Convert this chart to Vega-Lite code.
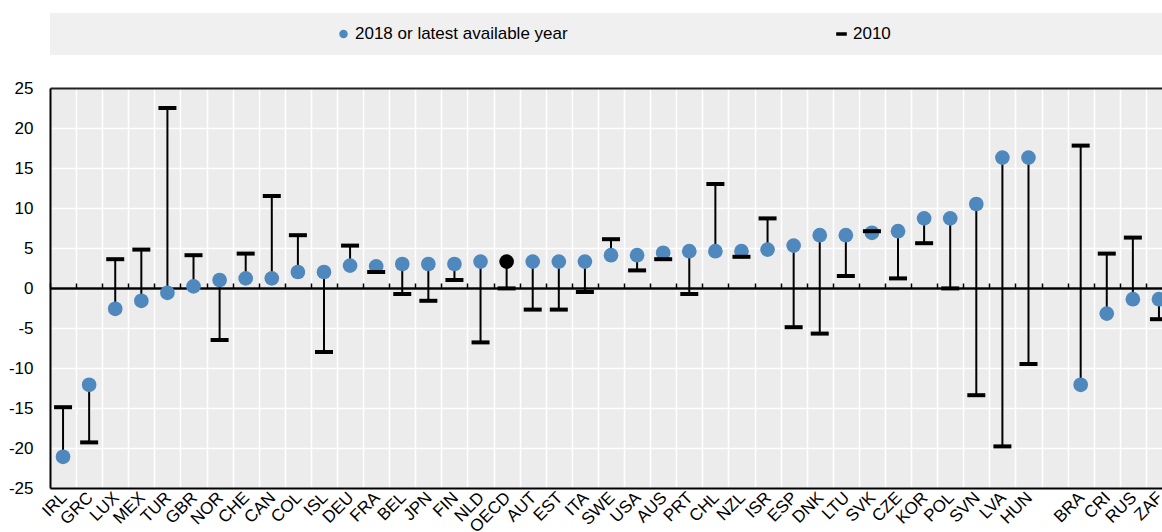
{
  "$schema": "https://vega.github.io/schema/vega-lite/v6.json",
  "width": 1112,
  "height": 400,
  "autosize": {"type": "none"},
  "padding": {"left": 50, "top": 88, "right": 0, "bottom": 44},
  "background": "white",
  "config": {
    "font": "Liberation Sans",
    "view": {"fill": "#ececec", "stroke": null},
    "axis": {"labelFont": "Liberation Sans", "labelFontSize": 17, "labelColor": "black", "title": null}
  },
  "data": {
    "values": [
      {"country": "IRL", "v2018": -21.1, "v2010": -14.9},
      {"country": "GRC", "v2018": -12.1, "v2010": -19.3},
      {"country": "LUX", "v2018": -2.6, "v2010": 3.6},
      {"country": "MEX", "v2018": -1.6, "v2010": 4.8},
      {"country": "TUR", "v2018": -0.6, "v2010": 22.5},
      {"country": "GBR", "v2018": 0.2, "v2010": 4.1},
      {"country": "NOR", "v2018": 1.0, "v2010": -6.5},
      {"country": "CHE", "v2018": 1.2, "v2010": 4.3},
      {"country": "CAN", "v2018": 1.2, "v2010": 11.5},
      {"country": "COL", "v2018": 2.0, "v2010": 6.6},
      {"country": "ISL", "v2018": 2.0, "v2010": -8.0},
      {"country": "DEU", "v2018": 2.8, "v2010": 5.3},
      {"country": "FRA", "v2018": 2.7, "v2010": 2.0},
      {"country": "BEL", "v2018": 3.0, "v2010": -0.75},
      {"country": "JPN", "v2018": 3.0, "v2010": -1.6},
      {"country": "FIN", "v2018": 3.0, "v2010": 1.0},
      {"country": "NLD", "v2018": 3.3, "v2010": -6.8},
      {"country": "OECD", "v2018": 3.3, "v2010": -0.05},
      {"country": "AUT", "v2018": 3.3, "v2010": -2.7},
      {"country": "EST", "v2018": 3.3, "v2010": -2.7},
      {"country": "ITA", "v2018": 3.3, "v2010": -0.5},
      {"country": "SWE", "v2018": 4.1, "v2010": 6.1},
      {"country": "USA", "v2018": 4.1, "v2010": 2.2},
      {"country": "AUS", "v2018": 4.4, "v2010": 3.6},
      {"country": "PRT", "v2018": 4.6, "v2010": -0.75},
      {"country": "CHL", "v2018": 4.6, "v2010": 13.0},
      {"country": "NZL", "v2018": 4.6, "v2010": 3.9},
      {"country": "ISR", "v2018": 4.8, "v2010": 8.7},
      {"country": "ESP", "v2018": 5.3, "v2010": -4.9},
      {"country": "DNK", "v2018": 6.6, "v2010": -5.7},
      {"country": "LTU", "v2018": 6.6, "v2010": 1.5},
      {"country": "SVK", "v2018": 6.9, "v2010": 7.1},
      {"country": "CZE", "v2018": 7.1, "v2010": 1.2},
      {"country": "KOR", "v2018": 8.7, "v2010": 5.6},
      {"country": "POL", "v2018": 8.7, "v2010": -0.05},
      {"country": "SVN", "v2018": 10.5, "v2010": -13.4},
      {"country": "LVA", "v2018": 16.3, "v2010": -19.8},
      {"country": "HUN", "v2018": 16.3, "v2010": -9.5},
      {"country": "BRA", "v2018": -12.1, "v2010": 17.8},
      {"country": "CRI", "v2018": -3.2, "v2010": 4.3},
      {"country": "RUS", "v2018": -1.4, "v2010": 6.3},
      {"country": "ZAF", "v2018": -1.4, "v2010": -3.9}
    ]
  },
  "resolve": {"axis": {"x": "independent"}},
  "layer": [
    {
      "mark": {"type": "rule", "strokeWidth": 2, "color": "black"},
      "encoding": {
        "x": {
          "field": "country",
          "type": "nominal",
          "sort": null,
          "scale": {
            "type": "band",
            "domain": ["IRL","GRC","LUX","MEX","TUR","GBR","NOR","CHE","CAN","COL","ISL","DEU","FRA","BEL","JPN","FIN","NLD","OECD","AUT","EST","ITA","SWE","USA","AUS","PRT","CHL","NZL","ISR","ESP","DNK","LTU","SVK","CZE","KOR","POL","SVN","LVA","HUN"," ","BRA","CRI","RUS","ZAF"],
            "paddingInner": 0,
            "paddingOuter": 0,
            "range": [0, 1122]
          },
          "axis": {
            "orient": "bottom",
            "labelAngle": -45,
            "labelPadding": 1,
            "labelOffset": -5,
            "labelOverlap": false,
            "ticks": false,
            "tickSize": 0,
            "domain": true,
            "domainColor": "black",
            "domainWidth": 2,
            "grid": true,
            "gridColor": "white",
            "gridWidth": 1.5,
            "tickBand": "extent",
            "labelFontSize": 17
          }
        },
        "y": {
          "field": "v2018",
          "type": "quantitative",
          "scale": {"domain": [-25, 25], "nice": false, "zero": false},
          "axis": {
            "values": [-25, -20, -15, -10, -5, 0, 5, 10, 15, 20, 25],
            "labelExpr": "'' + datum.value",
            "labelOverlap": false,
            "labelFlush": false,
            "domain": true,
            "domainColor": "black",
            "domainWidth": 2,
            "ticks": false,
            "tickSize": 0,
            "labelPadding": 17,
            "grid": true,
            "gridColor": {"condition": {"test": "datum.value === 0 || datum.value === 25", "value": "#222222"}, "value": "white"},
            "gridWidth": {"condition": {"test": "datum.value === 0 || datum.value === 25", "value": 2}, "value": 1.5}
          }
        },
        "y2": {"field": "v2010"}
      }
    },
    {
      "transform": [{"filter": "datum.country !== 'OECD'"}],
      "mark": {"type": "point", "filled": true, "size": 215, "opacity": 1, "strokeWidth": 0},
      "encoding": {
        "x": {"field": "country", "type": "nominal", "sort": null, "axis": null},
        "y": {
          "field": "v2018",
          "type": "quantitative",
          "axis": {
            "values": [-25, -20, -15, -10, -5, 0, 5, 10, 15, 20, 25],
            "labelExpr": "'' + datum.value",
            "labelOverlap": false,
            "labelFlush": false,
            "domain": true,
            "domainColor": "black",
            "domainWidth": 2,
            "ticks": false,
            "tickSize": 0,
            "labelPadding": 17,
            "grid": true,
            "gridColor": {"condition": {"test": "datum.value === 0 || datum.value === 25", "value": "#222222"}, "value": "white"},
            "gridWidth": {"condition": {"test": "datum.value === 0 || datum.value === 25", "value": 2}, "value": 1.5}
          }
        },
        "color": {
          "datum": "2018 or latest available year",
          "type": "nominal",
          "scale": {"domain": ["", "2018 or latest available year", "2010", " "], "range": ["#f0f0f0", "#4e88bd", "black", "#f0f0f0"]},
          "legend": {
            "title": null,
            "orient": "none",
            "legendX": 0,
            "legendY": -75,
            "direction": "horizontal",
            "columns": 4,
            "padding": 0,
            "clipHeight": 42,
            "fillColor": "#f0f0f0",
            "labelFont": "Liberation Sans",
            "labelFontSize": 17,
            "labelColor": "black",
            "labelLimit": 800,
            "symbolSize": 72,
            "symbolStrokeWidth": 0,
            "columnPadding": 265,
            "labelOffset": 3,
            "encoding": {
              "symbols": {
                "shape": {"condition": {"test": "datum.value === '2010'", "value": "M-1.25,-0.4H1.25V0.4H-1.25Z"}, "value": "circle"},
                "opacity": {"value": 1}
              }
            }
          }
        }
      }
    },
    {
      "transform": [{"filter": "datum.country === 'OECD'"}],
      "mark": {"type": "point", "filled": true, "size": 215, "opacity": 1, "strokeWidth": 0, "color": "black"},
      "encoding": {
        "x": {"field": "country", "type": "nominal", "sort": null, "axis": null},
        "y": {
          "field": "v2018",
          "type": "quantitative",
          "axis": {
            "values": [-25, -20, -15, -10, -5, 0, 5, 10, 15, 20, 25],
            "labelExpr": "'' + datum.value",
            "labelOverlap": false,
            "labelFlush": false,
            "domain": true,
            "domainColor": "black",
            "domainWidth": 2,
            "ticks": false,
            "tickSize": 0,
            "labelPadding": 17,
            "grid": true,
            "gridColor": {"condition": {"test": "datum.value === 0 || datum.value === 25", "value": "#222222"}, "value": "white"},
            "gridWidth": {"condition": {"test": "datum.value === 0 || datum.value === 25", "value": 2}, "value": 1.5}
          }
        }
      }
    },
    {
      "mark": {"type": "tick", "thickness": 4, "size": 18, "opacity": 1, "color": "black"},
      "encoding": {
        "x": {
          "field": "country",
          "type": "nominal",
          "sort": null,
          "axis": {
            "orient": "top",
            "offset": -200,
            "labels": false,
            "grid": false,
            "ticks": true,
            "tickSize": 5,
            "tickWidth": 1.5,
            "tickColor": "black",
            "tickBand": "extent",
            "domain": true,
            "domainColor": "black",
            "domainWidth": 2
          }
        },
        "y": {
          "field": "v2010",
          "type": "quantitative",
          "axis": {
            "values": [-25, -20, -15, -10, -5, 0, 5, 10, 15, 20, 25],
            "labelExpr": "'' + datum.value",
            "labelOverlap": false,
            "labelFlush": false,
            "domain": true,
            "domainColor": "black",
            "domainWidth": 2,
            "ticks": false,
            "tickSize": 0,
            "labelPadding": 17,
            "grid": true,
            "gridColor": {"condition": {"test": "datum.value === 0 || datum.value === 25", "value": "#222222"}, "value": "white"},
            "gridWidth": {"condition": {"test": "datum.value === 0 || datum.value === 25", "value": 2}, "value": 1.5}
          }
        }
      }
    }
  ]
}
